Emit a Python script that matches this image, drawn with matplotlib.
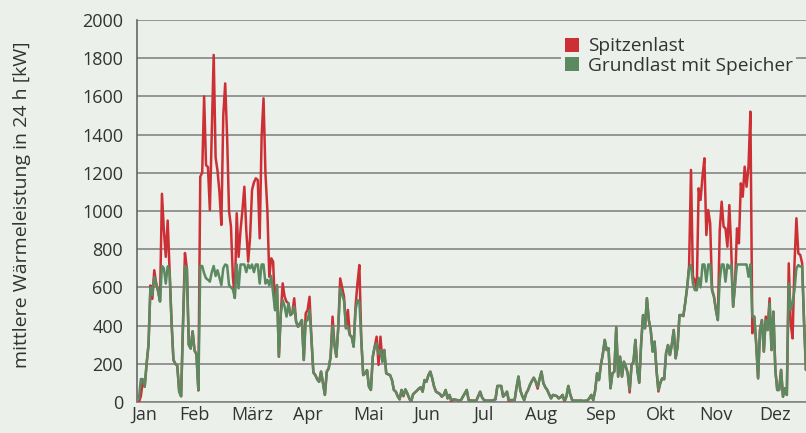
import numpy as np
import matplotlib
matplotlib.use('Agg')
import matplotlib.pyplot as plt
from matplotlib.patches import Patch

plt.rcParams['font.family'] = ['Open Sans', 'DejaVu Sans']

# daily values (kW), day 0 = 1 Jan, picture is cut off mid December
spitzenlast = [
    0, 30, 110, 80, 200, 300, 610, 540, 690, 620,
    580, 530, 1090, 900, 760, 950, 680, 420, 220, 200,
    190, 55, 30, 420, 780, 700, 300, 280, 370, 270,
    250, 60, 1180, 1200, 1600, 1240, 1230, 1005, 1400, 1817,
    1280, 1210, 1100, 927, 1500, 1668, 1390, 1000, 920, 656,
    545, 988, 760, 900, 1005, 1127, 900, 735, 865, 1110,
    1150, 1171, 1162, 857, 1389, 1590, 1197, 1005, 656, 752,
    735, 490, 612, 237, 464, 621, 551, 525, 517, 455,
    464, 543, 420, 394, 412, 429, 220, 464, 482, 551,
    330, 154, 141, 119, 106, 159, 100, 37, 159, 176,
    237, 447, 300, 237, 394, 647, 600, 551, 386, 482,
    351, 342, 290, 500, 621, 717, 325, 141, 150, 167,
    80, 63, 237, 290, 342, 194, 342, 211, 272, 150,
    145, 141, 115, 63, 54, 30, 14, 63, 30, 66,
    45, 20, 0, 40, 50, 59, 70, 77, 54, 115,
    106, 140, 159, 124, 80, 54, 48, 42, 28, 37,
    63, 19, 37, 0, 14, 12, 10, 7, 10, 28,
    45, 63, 10, 8, 7, 7, 7, 30, 54, 24,
    10, 7, 7, 7, 7, 10, 14, 84, 84, 84,
    28, 40, 54, 0, 10, 10, 10, 77, 133, 60,
    31, 10, 45, 63, 90, 110, 127, 106, 70, 120,
    159, 98, 77, 63, 40, 19, 37, 34, 31, 19,
    25, 37, 0, 28, 84, 40, 10, 7, 7, 7,
    7, 7, 0, 7, 7, 20, 37, 10, 60, 150,
    115, 194, 250, 325, 272, 281, 72, 150, 159, 391,
    133, 237, 133, 211, 185, 150, 50, 194, 211, 325,
    168, 101, 307, 455, 386, 543, 429, 377, 264, 316,
    168, 55, 100, 124, 119, 255, 298, 246, 300, 377,
    229, 290, 455, 455, 450, 520, 600, 709, 1215, 656,
    639, 586, 1119, 1058, 1180, 1276, 874, 1005, 935, 586,
    551, 482, 429, 900, 1049, 918, 909, 813, 1031, 796,
    499, 621, 909, 831, 1145, 1075, 1232, 1127, 1232, 1520,
    360, 447, 307, 124, 377, 429, 264, 447, 377, 543,
    272, 473, 168, 63, 63, 168, 28, 72, 37, 726,
    412, 333, 726, 962, 778, 770, 726, 412, 168, 290, 200,
]

grundlast = [
    20, 120, 120, 80, 200, 300, 600, 560, 655, 620,
    580, 525, 712, 700, 620, 710, 680, 420, 220, 200,
    190, 55, 30, 400, 712, 700, 300, 280, 370, 270,
    250, 63, 712, 712, 674, 648, 640, 630, 680, 712,
    660, 690, 650, 612, 700, 720, 715, 612, 600, 590,
    545, 720, 595, 720, 720, 720, 680, 720, 700, 720,
    680, 720, 720, 620, 720, 720, 620, 640, 610, 660,
    570, 480, 612, 237, 464, 534, 500, 447, 517, 455,
    464, 500, 420, 394, 412, 429, 220, 420, 429, 482,
    330, 154, 141, 119, 106, 159, 100, 37, 159, 176,
    237, 400, 300, 237, 394, 595, 560, 530, 386, 394,
    351, 342, 290, 480, 534, 525, 325, 141, 150, 167,
    80, 63, 237, 290, 307, 250, 272, 211, 272, 150,
    145, 141, 115, 63, 54, 30, 14, 63, 37, 66,
    45, 20, 2, 40, 50, 59, 70, 77, 54, 115,
    106, 140, 159, 124, 80, 54, 48, 42, 28, 37,
    63, 19, 37, 10, 14, 12, 10, 7, 10, 28,
    45, 63, 10, 8, 7, 7, 7, 30, 54, 24,
    10, 7, 7, 7, 7, 10, 14, 84, 84, 84,
    28, 40, 54, 10, 10, 10, 10, 77, 133, 60,
    31, 10, 45, 63, 90, 110, 127, 106, 80, 120,
    159, 98, 77, 63, 40, 19, 37, 34, 31, 19,
    25, 37, 7, 28, 84, 40, 10, 7, 7, 7,
    7, 7, 7, 7, 7, 20, 37, 10, 60, 150,
    115, 194, 250, 325, 272, 281, 72, 150, 159, 391,
    133, 237, 133, 211, 185, 150, 63, 194, 211, 325,
    168, 101, 307, 455, 386, 543, 429, 377, 264, 316,
    168, 63, 100, 124, 119, 255, 298, 246, 300, 377,
    229, 290, 455, 455, 450, 520, 600, 700, 717, 621,
    586, 586, 650, 600, 720, 720, 630, 720, 720, 586,
    551, 482, 429, 640, 720, 720, 630, 720, 700, 720,
    499, 620, 720, 720, 720, 720, 720, 720, 656, 720,
    447, 447, 307, 124, 377, 429, 264, 429, 377, 517,
    272, 473, 168, 63, 63, 168, 28, 72, 37, 621,
    482, 520, 586, 700, 717, 709, 709, 412, 168, 290, 200,
]

months = ['Jan', 'Feb', 'März', 'Apr', 'Mai', 'Jun',
          'Jul', 'Aug', 'Sep', 'Okt', 'Nov', 'Dez']
month_pos = [3, 29, 59, 88, 120, 150, 180, 210, 241, 272, 301, 332]

bg = '#ebf0eb'
red = '#cc3035'
green = '#5b8a60'
grid_col = '#858585'

days = np.arange(len(spitzenlast))

fig = plt.figure(figsize=(8.06, 4.33), dpi=100)
fig.patch.set_facecolor(bg)
ax = fig.add_axes([0.170, 0.0716, 0.830, 0.8822])
ax.set_facecolor(bg)

ax.plot(days, spitzenlast, color=red, lw=1.8, zorder=3)
ax.plot(days, grundlast, color=green, lw=1.8, zorder=4)

ax.set_xlim(-1, 348)
ax.set_ylim(0, 2000)
ax.set_yticks(range(0, 2001, 200))
ax.set_xticks(month_pos)
ax.set_xticklabels(months)
ax.tick_params(axis='both', length=0, labelsize=13, colors='#333333')
ax.tick_params(axis='y', pad=10)
ax.tick_params(axis='x', pad=3)

ax.grid(axis='y', color=grid_col, lw=1.2, zorder=1)
ax.set_axisbelow(True)
for s in ['top', 'right']:
    ax.spines[s].set_visible(False)
ax.spines['left'].set_color('#666666')
ax.spines['bottom'].set_color(grid_col)
ax.spines['left'].set_linewidth(1.2)
ax.spines['bottom'].set_linewidth(1.2)

fig.text(0.027, 0.527, 'mittlere Wärmeleistung in 24 h [kW]', rotation=90,
         ha='center', va='center', fontsize=14, color='#333333')

handles = [Patch(facecolor=red, edgecolor='none'),
           Patch(facecolor=green, edgecolor='none')]
leg = ax.legend(handles, ['Spitzenlast', 'Grundlast mit Speicher'],
                loc='upper right', bbox_to_anchor=(1.0, 0.99), fontsize=13.8,
                handlelength=0.75, handleheight=0.75, handletextpad=0.45,
                labelspacing=0.1, borderpad=0.2, fancybox=False,
                facecolor=bg, edgecolor='none', framealpha=1)
for t in leg.get_texts():
    t.set_color('#333333')

fig.savefig('out.png', dpi=100, facecolor=bg)
